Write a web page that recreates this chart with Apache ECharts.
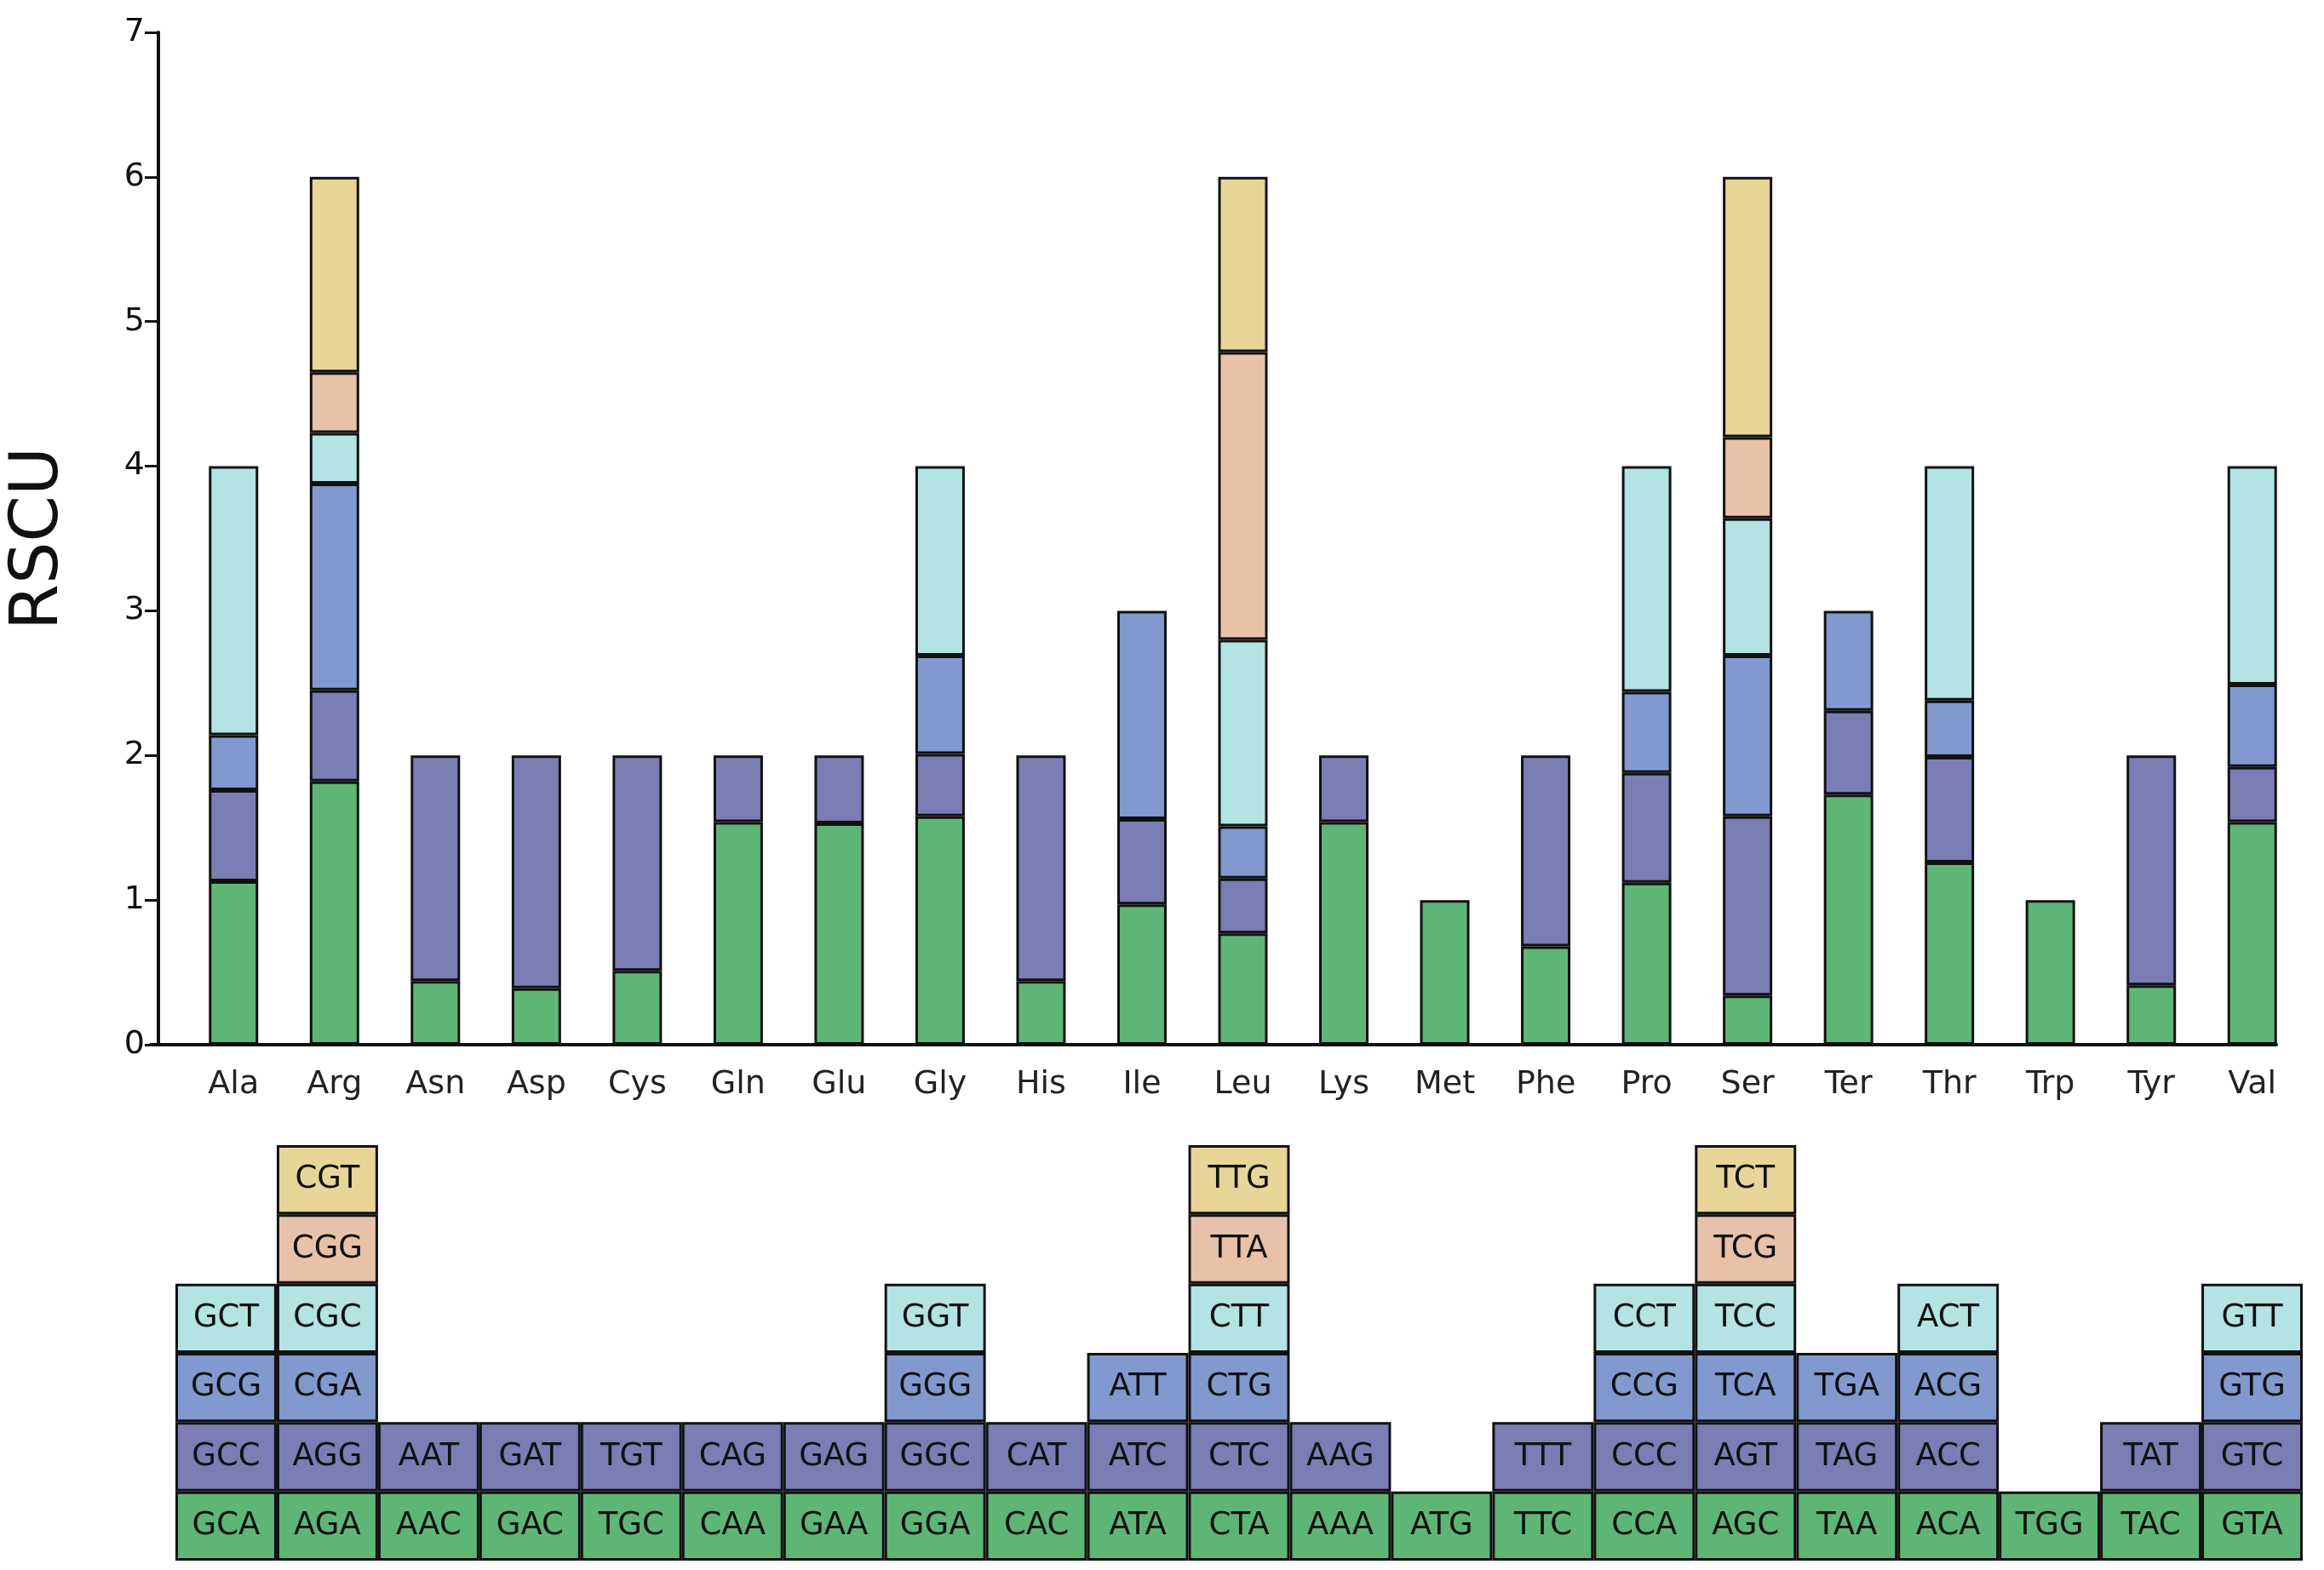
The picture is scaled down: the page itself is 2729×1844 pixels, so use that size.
<!DOCTYPE html>
<html>
<head>
<meta charset="utf-8">
<title>RSCU</title>
<script src="https://cdn.jsdelivr.net/npm/echarts@6/dist/echarts.min.js"></script>
<style>
    html, body { margin: 0; padding: 0; background: #fff; }
    #chart { width: 2729px; height: 1844px; }
</style>
</head>
<body>
<div id="chart"></div>
<script>
    // amino acids
    var aminoAcids = ['Ala','Arg','Asn','Asp','Cys','Gln','Glu','Gly','His','Ile','Leu','Lys','Met','Phe','Pro','Ser','Ter','Thr','Trp','Tyr','Val'];

    // RSCU stack segments, bottom (level 1) to top (level 6)
    var level1 = [1.13, 1.82, 0.44, 0.39, 0.51, 1.54, 1.53, 1.58, 0.44, 0.97, 0.77, 1.54, 1.00, 0.68, 1.12, 0.34, 1.73, 1.26, 1.00, 0.41, 1.54];
    var level2 = [0.63, 0.63, 1.56, 1.61, 1.49, 0.46, 0.47, 0.43, 1.56, 0.59, 0.38, 0.46, '-', 1.32, 0.76, 1.24, 0.58, 0.73, '-', 1.59, 0.38];
    var level3 = [0.38, 1.43, '-', '-', '-', '-', '-', 0.68, '-', 1.44, 0.36, '-', '-', '-', 0.56, 1.11, 0.69, 0.39, '-', '-', 0.57];
    var level4 = [1.86, 0.35, '-', '-', '-', '-', '-', 1.31, '-', '-', 1.29, '-', '-', '-', 1.56, 0.95, '-', 1.62, '-', '-', 1.51];
    var level5 = ['-', 0.42, '-', '-', '-', '-', '-', '-', '-', '-', 1.99, '-', '-', '-', '-', 0.56, '-', '-', '-', '-', '-'];
    var level6 = ['-', 1.35, '-', '-', '-', '-', '-', '-', '-', '-', 1.21, '-', '-', '-', '-', 1.80, '-', '-', '-', '-', '-'];

    // codon table, bottom row to top row
    var codons1 = ['GCA','AGA','AAC','GAC','TGC','CAA','GAA','GGA','CAC','ATA','CTA','AAA','ATG','TTC','CCA','AGC','TAA','ACA','TGG','TAC','GTA'];
    var codons2 = ['GCC','AGG','AAT','GAT','TGT','CAG','GAG','GGC','CAT','ATC','CTC','AAG','','TTT','CCC','AGT','TAG','ACC','','TAT','GTC'];
    var codons3 = ['GCG','CGA','','','','','','GGG','','ATT','CTG','','','','CCG','TCA','TGA','ACG','','','GTG'];
    var codons4 = ['GCT','CGC','','','','','','GGT','','','CTT','','','','CCT','TCC','','ACT','','','GTT'];
    var codons5 = ['','CGG','','','','','','','','','TTA','','','','','TCG','','','','',''];
    var codons6 = ['','CGT','','','','','','','','','TTG','','','','','TCT','','','','',''];

    var colors = ['#5eb676', '#7b7db4', '#8199cf', '#b3e3e3', '#e8c2a8', '#e8d598'];

    var levels = [level1, level2, level3, level4, level5, level6];
    var codonRows = [codons1, codons2, codons3, codons4, codons5, codons6];
    var font = 'DejaVu Sans';

    var series = [];
    levels.forEach(function (vals, i) {
        series.push({
            type: 'bar', stack: 'rscu', xAxisIndex: 0, yAxisIndex: 0,
            barWidth: 58, data: vals,
            itemStyle: { color: colors[i], borderColor: '#111', borderWidth: 3 }
        });
    });
    codonRows.forEach(function (row, i) {
        series.push({
            type: 'bar', stack: 'codon', xAxisIndex: 1, yAxisIndex: 1,
            barWidth: '100%',
            data: row.map(function (c) { return c ? { value: 1, name: c } : '-'; }),
            itemStyle: { color: colors[i], borderColor: '#111', borderWidth: 3 },
            label: {
                show: true, position: 'inside', color: '#111',
                fontFamily: font, fontSize: 37,
                formatter: function (p) { return p.data.name; }
            }
        });
    });

    var chart = echarts.init(document.getElementById('chart'));
    chart.setOption({
        animation: false,
        grid: [
            { left: 206, right: 25, top: 38, bottom: 617 },
            { left: 206, right: 25, top: 1345, bottom: 11 },
            { left: 177, right: 56, top: 38, bottom: 617 }
        ],
        xAxis: [
            {
                type: 'category', gridIndex: 0, data: aminoAcids,
                axisLine: { show: false }, axisTick: { show: false },
                axisLabel: { fontFamily: font, fontSize: 38, color: '#222', margin: 28 }
            },
            { type: 'category', gridIndex: 1, data: aminoAcids, show: false },
            {
                type: 'value', gridIndex: 2, min: 0, max: 1,
                axisLine: { show: true, lineStyle: { color: '#111', width: 4 } },
                axisTick: { show: false }, axisLabel: { show: false }, splitLine: { show: false }
            }
        ],
        yAxis: [
            {
                type: 'value', gridIndex: 0, min: 0, max: 7, interval: 1, offset: 29,
                name: 'RSCU', nameLocation: 'middle', nameGap: 100,
                nameTextStyle: { fontFamily: font, fontSize: 78, color: '#111' },
                axisLine: { show: true, lineStyle: { color: '#111', width: 4 } },
                axisTick: { show: true, length: 16, lineStyle: { color: '#111', width: 3 } },
                axisLabel: { fontFamily: font, fontSize: 38, color: '#111', margin: 16 },
                splitLine: { show: false }
            },
            { type: 'value', gridIndex: 1, min: 0, max: 6, show: false },
            { type: 'value', gridIndex: 2, min: 0, max: 1, show: false }
        ],
        series: series
    });
</script>
</body>
</html>
